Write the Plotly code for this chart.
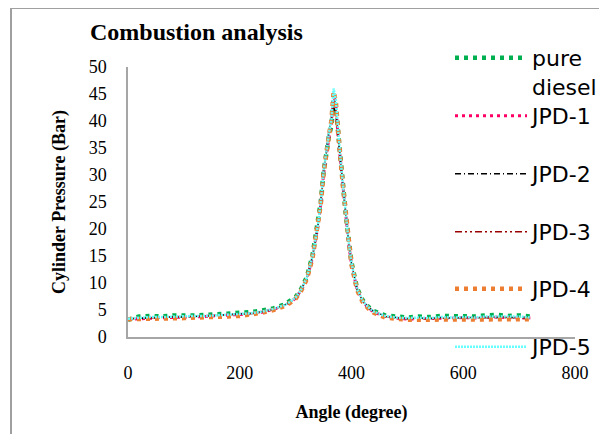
import plotly.graph_objects as go

angle = [0, 20, 40, 60, 80, 100, 120, 140, 160, 180, 200, 220, 240, 260, 280,
         290, 300, 310, 320, 330, 340, 345, 350, 355, 360, 364, 368, 372, 376, 380,
         385, 390, 395, 400, 410, 420, 430, 440,
         460, 480, 500, 520, 540, 560, 580, 600, 620, 640, 660, 680, 700, 720]

pure_diesel = [3.2, 3.8, 3.9, 3.8, 4.0, 3.9, 4.0, 4.1, 4.2, 4.4, 4.4, 4.6, 4.9, 5.3, 6.0,
               6.6, 7.4, 8.9, 11.1, 15.0, 21.0, 25.0, 30.5, 34.5, 37.5, 39.0, 44.0, 42.5, 37.5, 33.5,
               28.0, 22.5, 17.5, 13.8, 9.0, 6.8, 5.6, 4.8,
               4.0, 3.7, 3.6, 3.8, 3.7, 3.9, 3.8, 3.9, 3.8, 4.0, 4.1, 3.9, 4.0, 3.8]
jpd1 = [3.3, 3.4, 3.5, 3.6, 3.6, 3.7, 3.7, 3.8, 3.9, 4.0, 4.1, 4.3, 4.6, 5.1, 5.8,
        6.4, 7.2, 8.7, 10.8, 14.6, 20.6, 24.6, 30.2, 34.2, 37.2, 39.5, 45.0, 43.0, 37.0, 33.0,
        27.5, 22.0, 17.2, 13.5, 8.8, 6.6, 5.4, 4.6,
        3.8, 3.5, 3.3, 3.4, 3.4, 3.5, 3.5, 3.6, 3.5, 3.6, 3.7, 3.6, 3.6, 3.5]
jpd2 = [3.4, 3.5, 3.6, 3.6, 3.7, 3.7, 3.8, 3.9, 4.0, 4.1, 4.2, 4.4, 4.7, 5.2, 5.9,
        6.5, 7.3, 8.8, 11.0, 14.8, 20.8, 24.8, 30.8, 35.0, 38.5, 40.5, 42.5, 41.5, 36.5, 32.8,
        27.8, 22.3, 17.4, 13.6, 8.9, 6.7, 5.5, 4.7,
        3.9, 3.6, 3.4, 3.5, 3.4, 3.6, 3.5, 3.6, 3.6, 3.7, 3.7, 3.6, 3.7, 3.6]
jpd3 = [3.4, 3.5, 3.5, 3.6, 3.7, 3.7, 3.8, 3.8, 3.9, 4.0, 4.1, 4.3, 4.6, 5.1, 5.8,
        6.4, 7.2, 8.7, 10.9, 14.7, 20.7, 24.7, 30.4, 34.6, 37.8, 40.0, 43.5, 42.0, 36.8, 33.0,
        27.6, 22.1, 17.3, 13.6, 8.8, 6.6, 5.4, 4.6,
        3.8, 3.5, 3.4, 3.4, 3.4, 3.5, 3.5, 3.6, 3.5, 3.6, 3.7, 3.6, 3.6, 3.5]
jpd4 = [3.3, 3.3, 3.4, 3.4, 3.5, 3.5, 3.6, 3.6, 3.7, 3.8, 3.9, 4.1, 4.5, 5.0, 5.7,
        6.3, 7.1, 8.6, 10.7, 14.5, 20.5, 24.5, 30.3, 34.4, 37.6, 40.0, 45.5, 43.5, 37.2, 33.2,
        27.7, 22.2, 17.3, 13.4, 8.7, 6.5, 5.3, 4.5,
        3.6, 3.3, 3.2, 3.2, 3.2, 3.3, 3.2, 3.3, 3.3, 3.4, 3.4, 3.3, 3.4, 3.3]
jpd5 = [3.4, 3.6, 3.7, 3.7, 3.8, 3.8, 3.9, 3.9, 4.0, 4.2, 4.2, 4.4, 4.7, 5.2, 5.9,
        6.5, 7.3, 8.8, 11.0, 14.8, 20.8, 24.8, 30.6, 34.8, 38.0, 40.2, 46.0, 43.8, 37.6, 33.4,
        27.9, 22.4, 17.5, 13.7, 8.9, 6.7, 5.5, 4.7,
        3.9, 3.6, 3.5, 3.6, 3.5, 3.7, 3.6, 3.7, 3.6, 3.8, 3.8, 3.7, 3.8, 3.6]

series_names = ["pure<br>diesel", "JPD-1", "JPD-2", "JPD-3", "JPD-4", "JPD-5"]
series_values = [pure_diesel, jpd1, jpd2, jpd3, jpd4, jpd5]
colors = ["#00b050", "#ff0066", "#000000", "#990000", "#ed7d31", "#66ffff"]
widths = [4.5, 3, 1.5, 1.5, 4.5, 2.5]
dashes = ["4px,5px", "3px,4px", "6px,3px,1px,3px", "7px,3px,2px,3px,2px,3px", "4px,5px", "2px,1px"]
legend_ids = ["legend", "legend2", "legend3", "legend4", "legend5", "legend6"]

# the page has an 8px body margin; work in page pixels and convert
OFF = 8
W, H = 607 - OFF, 434 - OFF
PL, PR, PT, PB = 128, 575, 67, 337   # plot area in page pixels
L, R, T, B = PL - OFF, W - (PR - OFF), PT - OFF, H - (PB - OFF)
pw, ph = PR - PL, PB - PT

def px_x(px):
    return (px - PL) / pw

def px_y(py):
    return (PB - py) / ph

fig = go.Figure()
for name, vals, c, w, d, lg in zip(series_names, series_values, colors, widths, dashes, legend_ids):
    fig.add_trace(go.Scatter(x=angle, y=vals, mode="lines", name=name,
                             line=dict(color=c, width=w, dash=d), legend=lg))

legend_font = dict(family="DejaVu Sans", size=22, color="#000000")
legend_centers = [58, 116, 174, 232, 289, 347]
layout_legends = {}
for i, (lg, cy) in enumerate(zip(legend_ids, legend_centers)):
    common = dict(x=px_x(450), xanchor="left", font=legend_font,
                  bgcolor="rgba(0,0,0,0)", itemwidth=72, borderwidth=0)
    if i == 0:
        layout_legends[lg] = dict(y=px_y(cy - 21), yanchor="top", valign="top", **common)
    else:
        layout_legends[lg] = dict(y=px_y(cy), yanchor="middle", **common)

fig.update_layout(
    width=W, height=H,
    margin=dict(l=L, r=R, t=T, b=B, pad=0, autoexpand=False),
    paper_bgcolor="white", plot_bgcolor="white",
    showlegend=True,
    title=dict(text="<b>Combustion analysis</b>", x=(90 - OFF) / W, xanchor="left",
               y=1 - (32 - OFF) / H, yanchor="middle",
               font=dict(family="Liberation Serif", size=24, color="#000000")),
    xaxis=dict(range=[0, 800], dtick=200, showgrid=False, zeroline=False, automargin=False,
               showline=True, linecolor="#a6a6a6", linewidth=1.5, ticks="",
               ticklabelstandoff=19,
               tickfont=dict(family="Liberation Serif", size=18, color="#000000"),
               title=dict(text="<b>Angle (degree)</b>", standoff=23,
                          font=dict(family="Liberation Serif", size=18, color="#000000"))),
    yaxis=dict(range=[0, 50], dtick=5, showgrid=False, zeroline=False, automargin=False,
               showline=True, linecolor="#a6a6a6", linewidth=1.5, ticks="",
               ticklabelstandoff=16,
               tickfont=dict(family="Liberation Serif", size=18, color="#000000"),
               title=dict(text="<b>Cylinder Pressure (Bar)</b>", standoff=18,
                          font=dict(family="Liberation Serif", size=18, color="#000000"))),
    shapes=[dict(type="rect", xref="paper", yref="paper",
                 x0=px_x(11), x1=px_x(640), y0=px_y(460), y1=px_y(8),
                 line=dict(color="#a0a0a0", width=2), fillcolor="rgba(0,0,0,0)", layer="below")],
    **layout_legends,
)

fig.write_html("out.html")
